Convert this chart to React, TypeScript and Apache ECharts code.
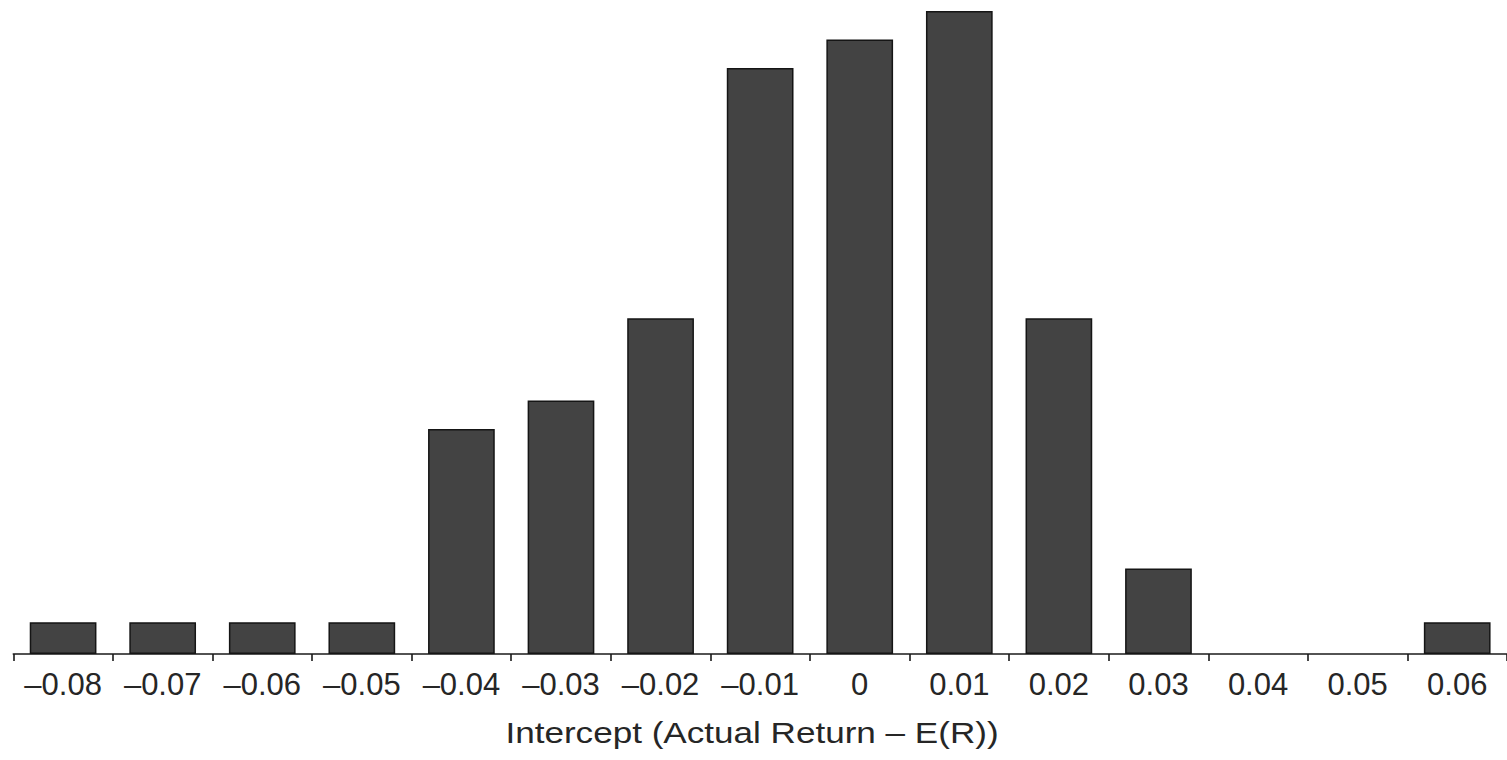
import React, { useEffect, useRef } from "react";
import * as echarts from "echarts";

const categories = [
  "–0.08", "–0.07", "–0.06", "–0.05", "–0.04", "–0.03", "–0.02", "–0.01",
  "0", "0.01", "0.02", "0.03", "0.04", "0.05", "0.06",
];
const frequencies = [1.0, 1.0, 1.0, 1.0, 7.1, 8.0, 10.6, 18.5, 19.4, 20.3, 10.6, 2.7, 0, 0, 1.0];
const axisTitle = "Intercept (Actual Return – E(R))";

export default function App() {
  const ref = useRef<HTMLDivElement>(null);
  useEffect(() => {
    if (!ref.current) return;
    const chart = echarts.init(ref.current, undefined, { renderer: "svg" });
    chart.setOption({
      animation: false,
      backgroundColor: "#ffffff",
      grid: { left: 13.3, right: 0, top: 11, bottom: 106, containLabel: false },
      graphic: [
        {
          type: "text",
          x: 752,
          y: 747,
          scaleX: 1.17,
          style: {
            text: axisTitle,
            fontFamily: "Liberation Sans",
            fontSize: 30,
            fill: "#262626",
            textAlign: "center",
            textVerticalAlign: "bottom",
          },
        },
      ],
      xAxis: {
        type: "category",
        data: categories,
        boundaryGap: true,
        axisLine: { show: true, lineStyle: { color: "#1a1a1a", width: 1.6 } },
        axisTick: {
          show: true,
          alignWithLabel: false,
          length: 7,
          lineStyle: { color: "#1a1a1a", width: 1.6 },
        },
        axisLabel: {
          show: true,
          interval: 0,
          margin: 15,
          fontFamily: "Liberation Sans",
          fontSize: 31,
          color: "#262626",
        },
        splitLine: { show: false },
      },
      yAxis: {
        type: "value",
        min: 0,
        max: 20.3,
        show: false,
        splitLine: { show: false },
      },
      series: [
        {
          type: "bar",
          data: frequencies.map((v) => (v === 0 ? null : v)),
          barWidth: "67%",
          itemStyle: {
            color: "#434343",
            borderColor: "#151515",
            borderWidth: 1.5,
          },
        },
      ],
    });
    return () => chart.dispose();
  }, []);
  return (
    <div
      ref={ref}
      style={{ position: "absolute", left: 0, top: 0, width: 1507, height: 760, background: "#fff" }}
    />
  );
}
